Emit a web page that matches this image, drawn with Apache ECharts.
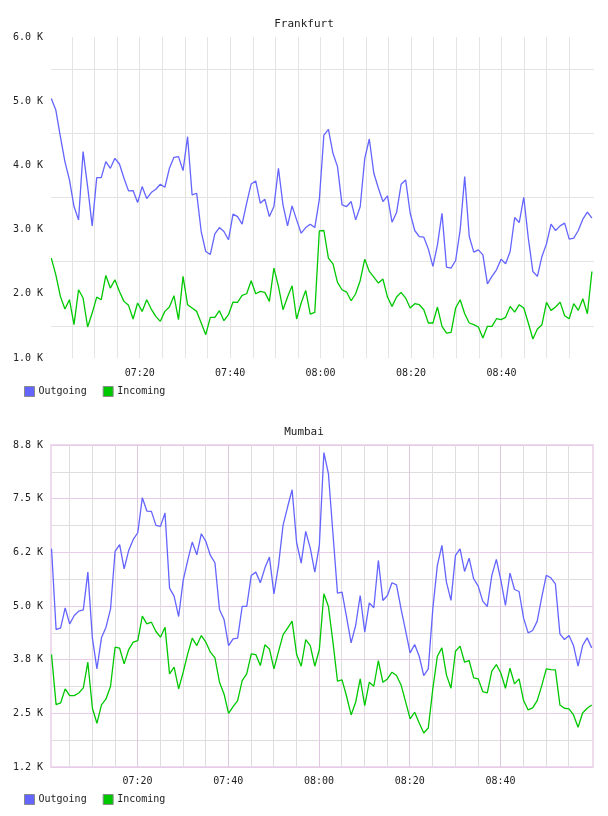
<!DOCTYPE html>
<html>
<head>
<meta charset="utf-8">
<script src="https://cdn.jsdelivr.net/npm/echarts@6/dist/echarts.min.js"></script>
<style>
  html, body { margin: 0; padding: 0; background: #fff; }
  .chart { width: 608px; height: 408px; }
</style>
</head>
<body>
<div id="frankfurt" class="chart"></div>
<div id="mumbai" class="chart"></div>
<script>
// sample times are minutes after 07:00 (first and last sample, one per minute)
const frankfurtSpan = [0.45, 120.0];
const mumbaiSpan = [1.06, 120.1];

const frankfurtOutgoing = [
  5043, 4862, 4447, 4059, 3774, 3359, 3152, 4214, 3670, 3058,
  3810, 3810, 4059, 3955, 4110, 4022, 3800, 3603, 3608, 3421,
  3670, 3483, 3577, 3628, 3706, 3660, 3955, 4126, 4136, 3919,
  4447, 3540, 3566, 2970, 2659, 2613, 2934, 3032, 2970, 2841,
  3240, 3203, 3084, 3411, 3711, 3758, 3411, 3473, 3203, 3359,
  3955, 3385, 3058, 3369, 3152, 2944, 3032, 3084, 3032, 3470,
  4473, 4561, 4188, 3981, 3385, 3359, 3437, 3152, 3359, 4110,
  4411, 3877, 3644, 3437, 3525, 3115, 3266, 3706, 3774, 3255,
  2986, 2892, 2882, 2696, 2426, 2763, 3255, 2416, 2400, 2519,
  2996, 3826, 2892, 2649, 2685, 2607, 2156, 2271, 2374, 2540,
  2467, 2659, 3188, 3110, 3504, 2867, 2348, 2271, 2582, 2778,
  3084, 2986, 3058, 3100, 2851, 2867, 2986, 3162, 3271, 3178
];
const frankfurtIncoming = [
  2556, 2296, 1960, 1762, 1908, 1519, 2063, 1934, 1483, 1700,
  1949, 1908, 2286, 2089, 2219, 2037, 1882, 1820, 1607, 1856,
  1726, 1908, 1762, 1649, 1571, 1726, 1794, 1970, 1597, 2271,
  1830, 1778, 1726, 1545, 1363, 1633, 1633, 1737, 1581, 1675,
  1871, 1866, 1975, 2001, 2203, 2001, 2037, 2022, 1882, 2400,
  2115, 1752, 1949, 2125, 1607, 1856, 2053, 1685, 1711, 2981,
  2986, 2556, 2467, 2177, 2063, 2027, 1892, 2001, 2208, 2540,
  2348, 2260, 2167, 2229, 1949, 1804, 1949, 2022, 1934, 1778,
  1846, 1830, 1752, 1545, 1545, 1794, 1493, 1389, 1400, 1778,
  1908, 1690, 1545, 1519, 1483, 1312, 1493, 1493, 1612, 1597,
  1633, 1804, 1716, 1830, 1778, 1545, 1296, 1452, 1519, 1866,
  1742, 1794, 1871, 1659, 1612, 1846, 1742, 1923, 1690, 2348
];
const mumbaiOutgoing = [
  6333, 4452, 4491, 4958, 4584, 4779, 4880, 4911, 5789, 4250,
  3535, 4258, 4507, 4934, 6271, 6427, 5867, 6295, 6551, 6706,
  7523, 7212, 7204, 6878, 6854, 7165, 5416, 5230, 4755, 5595,
  6061, 6489, 6193, 6683, 6504, 6178, 6007, 4919, 4686, 4079,
  4235, 4250, 4989, 4989, 5712, 5789, 5541, 5883, 6139, 5284,
  5945, 6878, 7305, 7709, 6473, 6000, 6738, 6349, 5789, 6411,
  8572, 8082, 6683, 5300, 5323, 4740, 4141, 4546, 5245, 4390,
  5074, 4958, 6061, 5129, 5245, 5541, 5494, 4934, 4429, 3908,
  4103, 3830, 3380, 3535, 4934, 5945, 6411, 5556, 5129, 6178,
  6333, 5805, 6116, 5634, 5463, 5113, 4989, 5712, 6085, 5595,
  5012, 5766, 5385, 5338, 4717, 4375, 4429, 4647, 5206, 5712,
  5657, 5517, 4351, 4219, 4312, 4079, 3597, 4079, 4258, 4025
];
const mumbaiIncoming = [
  3869, 2703, 2742, 3069, 2913, 2913, 2975, 3092, 3691, 2618,
  2268, 2696, 2835, 3131, 4040, 4017, 3652, 3986, 4157, 4196,
  4763, 4584, 4623, 4406, 4274, 4507, 3419, 3574, 3069, 3457,
  3885, 4250, 4079, 4312, 4157, 3924, 3792, 3224, 2952, 2501,
  2657, 2797, 3263, 3419, 3885, 3869, 3613, 4095, 4001, 3535,
  3939, 4328, 4483, 4647, 3869, 3597, 4219, 4079, 3597, 3986,
  5284, 4989, 4157, 3248, 3279, 2898, 2462, 2758, 3302, 2680,
  3224, 3131, 3729, 3224, 3302, 3458, 3380, 3162, 2773, 2369,
  2525, 2276, 2043, 2159, 3069, 3830, 4025, 3395, 3084, 3947,
  4064, 3691, 3730, 3325, 3302, 3007, 2976, 3481, 3636, 3434,
  3084, 3551, 3185, 3302, 2797, 2579, 2626, 2797, 3146, 3535,
  3520, 3512, 2696, 2618, 2602, 2462, 2175, 2509, 2618, 2696
];

const timeLabels = ['07:20', '07:40', '08:00', '08:20', '08:40'];
const frankfurtTicks = ['1.0 K', '2.0 K', '3.0 K', '4.0 K', '5.0 K', '6.0 K'];
const mumbaiTicks = ['1.2 K', '2.5 K', '3.8 K', '5.0 K', '6.2 K', '7.5 K', '8.8 K'];

const FONT = 'DejaVu Sans Mono';
const BLUE = '#6464ff';
const GREEN = '#00c800';

function sampleTimes(span, count) {
  const step = (span[1] - span[0]) / (count - 1);
  return Array.from({ length: count }, (_, i) => span[0] + i * step);
}

const gridMinutes = [];
for (let m = 5; m <= 115; m += 5) gridMinutes.push(m);

function chartOption(cfg) {
  const times = sampleTimes(cfg.span, cfg.outgoing.length);
  return {
    animation: false,
    textStyle: { fontFamily: FONT },
    title: {
      text: cfg.title,
      left: 'center',
      top: 14,
      textStyle: { fontFamily: FONT, fontSize: 11, fontWeight: 'normal', color: '#222' },
    },
    legend: {
      left: 19,
      top: 381,
      icon: 'rect',
      itemWidth: 10,
      itemHeight: 10,
      itemGap: 16,
      itemStyle: { borderColor: '#8a8a8a', borderWidth: 1 },
      textStyle: { fontFamily: FONT, fontSize: 10, color: '#222', padding: [0, 0, 0, -1] },
      data: ['Outgoing', 'Incoming'],
    },
    grid: Object.assign({ left: 51, top: 37 }, cfg.grid),
    xAxis: {
      type: 'value',
      min: cfg.xRange[0],
      max: cfg.xRange[1],
      axisLine: { show: false },
      axisTick: { show: false, customValues: gridMinutes },
      axisLabel: {
        customValues: [20, 40, 60, 80, 100],
        margin: cfg.labelMargin,
        fontFamily: FONT,
        fontSize: 10,
        color: '#222',
        formatter: (v) => timeLabels[Math.round(v / 20) - 1],
      },
      splitLine: { show: true, lineStyle: { color: cfg.xLineColors, width: 1 } },
    },
    yAxis: {
      type: 'value',
      min: cfg.yTicks.min,
      max: cfg.yTicks.max,
      interval: cfg.yTicks.step,
      axisLine: { show: false },
      axisTick: { show: false },
      axisLabel: {
        margin: 8,
        fontFamily: FONT,
        fontSize: 10,
        color: '#222',
        formatter: (v) => cfg.yTicks.labels[Math.round((v - cfg.yTicks.min) / cfg.yTicks.step)],
      },
      splitLine: cfg.yMajor,
      minorTick: { show: false, splitNumber: 2 },
      minorSplitLine: { show: true, lineStyle: { color: cfg.yMinorColor, width: 1 } },
    },
    series: [
      line('Outgoing', times, cfg.outgoing, BLUE),
      line('Incoming', times, cfg.incoming, GREEN),
    ],
  };
}

function line(name, times, values, color) {
  return {
    name,
    type: 'line',
    symbol: 'none',
    showSymbol: false,
    color,
    lineStyle: { width: 1.3, color },
    data: values.map((v, i) => [times[i], v]),
  };
}

const frankfurt = echarts.init(document.getElementById('frankfurt'));
frankfurt.setOption(chartOption({
  title: 'Frankfurt',
  span: frankfurtSpan,
  xRange: [0.385, 120.46],
  outgoing: frankfurtOutgoing,
  incoming: frankfurtIncoming,
  grid: { right: 14, bottom: 50 },
  labelMargin: 10,
  xLineColors: ['#e4e4e4'],
  yTicks: { min: 1000, max: 6000, step: 1000, labels: frankfurtTicks },
  yMajor: { show: false },
  yMinorColor: '#e4e4e4',
}));

const mumbai = echarts.init(document.getElementById('mumbai'));
mumbai.setOption(chartOption({
  title: 'Mumbai',
  span: mumbaiSpan,
  xRange: [0.94, 120.39],
  outgoing: mumbaiOutgoing,
  incoming: mumbaiIncoming,
  grid: { right: 15, bottom: 49, show: true, borderColor: '#eedcee', borderWidth: 2 },
  labelMargin: 9,
  xLineColors: ['#e0dce0', '#e0dce0', '#e0dce0', '#e0c8e0'],
  yTicks: { min: 1250, max: 8750, step: 1250, labels: mumbaiTicks },
  yMajor: { show: true, lineStyle: { color: '#e6cce6', width: 1 } },
  yMinorColor: '#dedede',
}));
</script>
</body>
</html>
